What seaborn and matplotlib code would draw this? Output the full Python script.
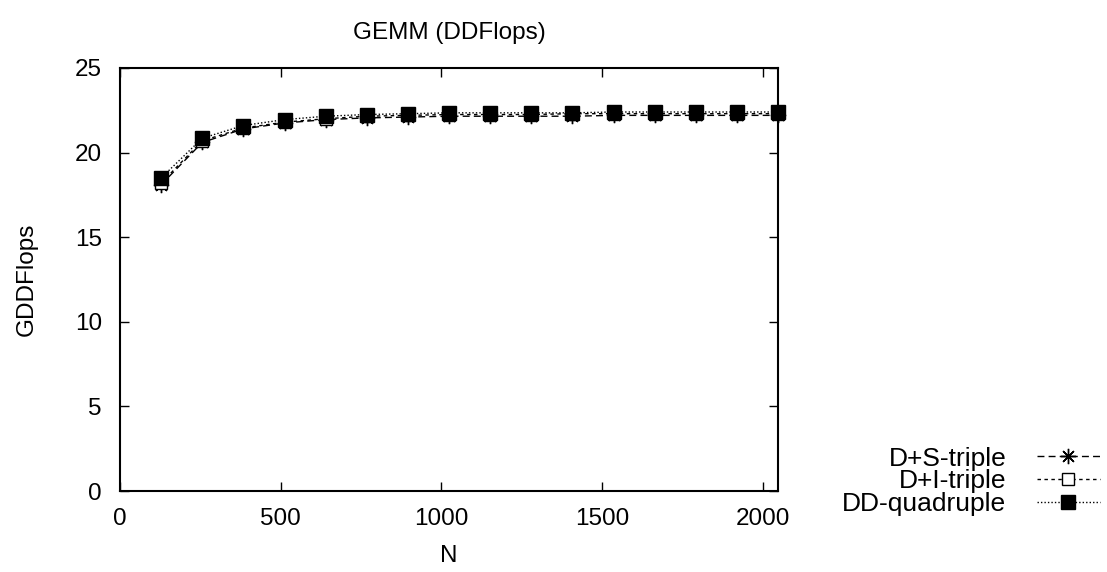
import matplotlib
matplotlib.use("Agg")
import matplotlib.pyplot as plt
import seaborn as sns
import pandas as pd

N = [128, 256, 384, 512, 640, 768, 896, 1024, 1152, 1280, 1408, 1536, 1664, 1792, 1920, 2048]
ds_triple = [18.1, 20.6, 21.4, 21.75, 21.95, 22.05, 22.1, 22.15, 22.15, 22.15, 22.15, 22.2, 22.2, 22.2, 22.2, 22.2]
di_triple = [18.2, 20.7, 21.45, 21.8, 22.0, 22.15, 22.2, 22.25, 22.25, 22.25, 22.3, 22.3, 22.3, 22.3, 22.3, 22.3]
dd_quad = [18.5, 20.85, 21.6, 21.95, 22.15, 22.25, 22.3, 22.35, 22.35, 22.35, 22.35, 22.4, 22.4, 22.4, 22.4, 22.4]
labels = ["D+S-triple", "D+I-triple", "DD-quadruple"]
x_ticks = [0, 500, 1000, 1500, 2000]
y_ticks = [0, 5, 10, 15, 20, 25]

sns.set_theme(style="ticks")
plt.rcParams["font.family"] = ["Liberation Sans", "DejaVu Sans"]
plt.rcParams["text.color"] = "black"
plt.rcParams["axes.labelcolor"] = "black"
plt.rcParams["xtick.color"] = "black"
plt.rcParams["ytick.color"] = "black"
FS = 17.5
LFS = 19

fig = plt.figure(figsize=(11.07, 5.72), dpi=100)
ax = fig.add_axes([120/1107, 1-491/572, (778-120)/1107, (491-68)/572])

styles = [
    dict(linestyle=(0, (5, 3)), marker=(8, 2, 0), markersize=11, markerfacecolor="black", markeredgewidth=1.0),
    dict(linestyle=(0, (2.5, 2.5)), marker="s", markersize=9, markerfacecolor="white", markeredgewidth=1.0),
    dict(linestyle=(0, (1, 1.5)), marker="s", markersize=10, markerfacecolor="black", markeredgewidth=1.0),
]
for vals, lab, st in zip([ds_triple, di_triple, dd_quad], labels, styles):
    df = pd.DataFrame({"N": N, "v": vals})
    sns.lineplot(data=df, x="N", y="v", ax=ax, color="black", linewidth=1.0,
                 markeredgecolor="black", label=lab, clip_on=False, **st)

ax.set_xlim(0, 2048)
ax.set_ylim(0, 25)
ax.set_xticks(x_ticks)
ax.set_yticks(y_ticks)
ax.tick_params(direction="in", length=6.5, width=1.0, top=True, right=True,
               labelsize=FS, colors="black")
ax.tick_params(axis="y", pad=13)
ax.tick_params(axis="x", pad=12)
for s in ax.spines.values():
    s.set_linewidth(1.5)
    s.set_color("black")
ax.set_xlabel("N", fontsize=FS, labelpad=11, color="black")
ax.set_ylabel("GDDFlops", fontsize=FS, labelpad=27, color="black")
ax.set_title("GEMM (DDFlops)", fontsize=FS, pad=21, color="black")

leg = ax.legend(loc="lower right", bbox_to_anchor=(1100/1107, (572-516)/572),
                bbox_transform=fig.transFigure, frameon=False, markerfirst=False,
                fontsize=LFS, handlelength=2.4, handletextpad=1.15, labelspacing=-0.05,
                borderpad=0, borderaxespad=0, labelcolor="black")

fig.savefig("out.png", dpi=100)
